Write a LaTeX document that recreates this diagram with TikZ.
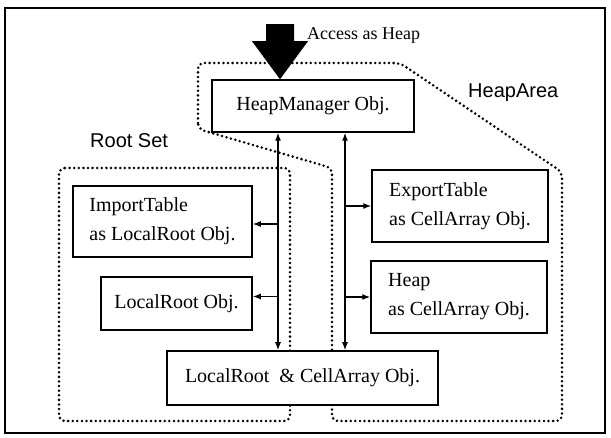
\documentclass[tikz,border=0pt]{standalone}
\usepackage{fontspec}
\setmainfont{Liberation Serif}
\setsansfont{Liberation Sans}
\usetikzlibrary{arrows.meta}
\tikzset{
  BoxStyle/.style = { rectangle, draw, line width = 1.5pt, fill = white,
                      inner sep = 0pt, align = left,
                      font = \fontsize{20}{29}\selectfont },
  EdgeStyle/.style = { line width = 1.3pt,
                       > = {Latex[length=8pt,width=6pt]} },
  AreaStyle/.style = { line width = 2.8pt, line cap = round,
                       dash pattern = on 0pt off 4.6pt,
                       rounded corners = 6pt } }

\begin{document}
\begin{tikzpicture}[x=1pt,y=-1pt]
  \tikzset{
  TagStyle/.style = { anchor = base west, inner sep = 0pt,
                      font = \sffamily\fontsize{20}{24}\selectfont } }
  \useasboundingbox (0,0) rectangle (611,438);
  \draw[line width=1.6pt] (5,8) rectangle (605,433);

  \draw[AreaStyle] (198,129) -- (198,63) -- (400,63) -- (562,172)
     -- (562,421) -- (332,421) -- (332,168) -- cycle;
  \draw[AreaStyle] (59,168) -- (290,168) -- (290,421) -- (59,421) -- cycle;

  \node[TagStyle] (rs) at (90,148) {Root Set};
  \node[TagStyle] (ha) at (468,98) {HeapArea};

  \node[BoxStyle, minimum width=202pt, minimum height=52pt] (hm) at (313,106) {HeapManager Obj.};
  \node[BoxStyle, minimum width=179pt, minimum height=71pt] (it) at (162.5,221.5) {ImportTable\\as LocalRoot Obj.};
  \node[BoxStyle, minimum width=151pt, minimum height=53pt] (lr) at (176.5,303.5) {LocalRoot Obj.};
  \node[BoxStyle, minimum width=271pt, minimum height=54pt] (lc) at (302.5,378) {LocalRoot \ \& CellArray Obj.};
  \node[BoxStyle, minimum width=176pt, minimum height=72pt] (et) at (460,206) {ExportTable\\as CellArray Obj.};
  \node[BoxStyle, minimum width=176pt, minimum height=72pt] (hp) at (459,297) {Heap\\as CellArray Obj.};

  \coordinate (tip) at ([xshift=-33pt]hm.north);
  \fill (tip) -- ++(-28,-38) -- ++(14,0) -- ++(0,-17) -- ++(28,0)
     -- ++(0,17) -- ++(14,0) -- cycle;
  \node[anchor=base west, inner sep=0pt, font=\fontsize{18}{22}\selectfont] (acc) at (307,40) {Access as Heap};

  \coordinate (ml) at ([xshift=-35pt]hm.south);
  \coordinate (mr) at ([xshift=32pt]hm.south);
  \coordinate (itin) at ([yshift=-2.5pt]it.east);
  \coordinate (lrin) at ([yshift=7pt]lr.east);

  \draw[EdgeStyle, <->] (ml) -- (ml |- lc.north);
  \draw[EdgeStyle, <->] (mr) -- (mr |- lc.north);
  \draw[EdgeStyle, ->] (ml |- itin) -- (itin);
  \draw[EdgeStyle, ->] (ml |- lrin) -- (lrin);
  \draw[EdgeStyle, ->] (mr |- et.west) -- (et.west);
  \draw[EdgeStyle, ->] (mr |- hp.west) -- (hp.west);
\end{tikzpicture}
\end{document}
